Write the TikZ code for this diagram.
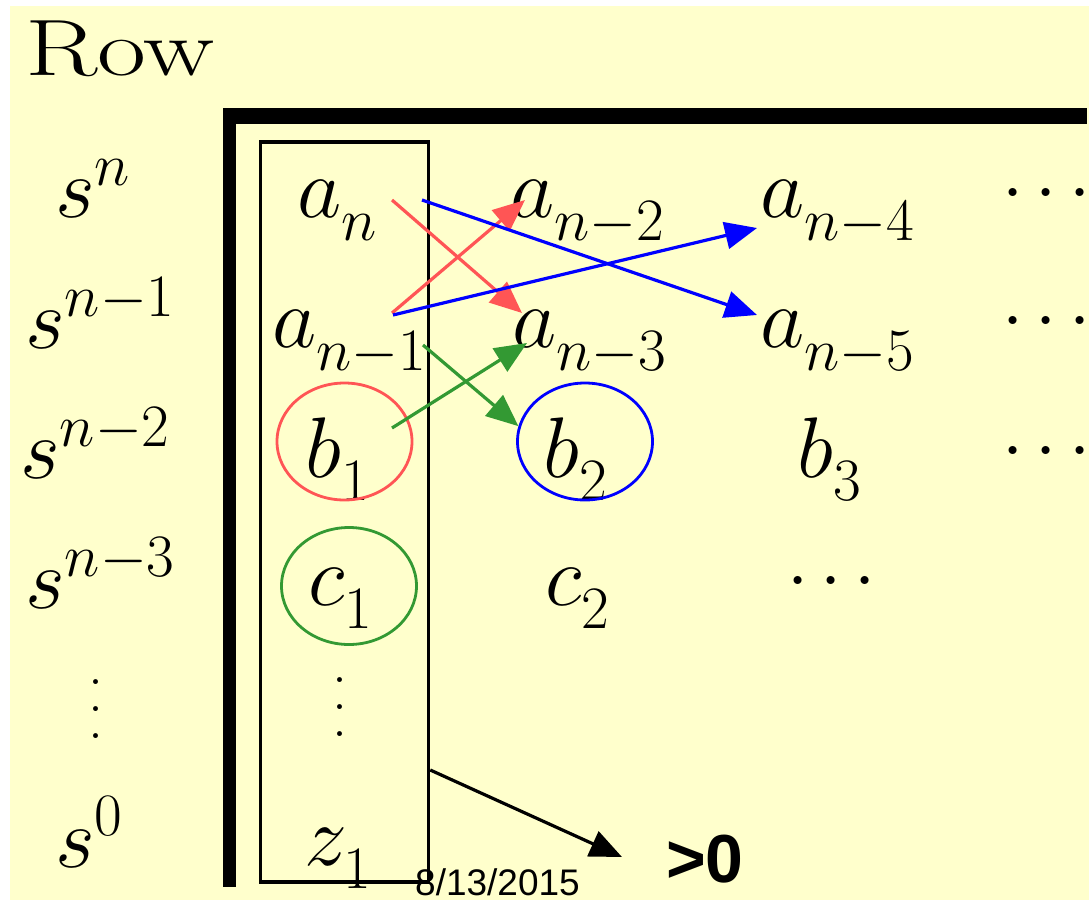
\RequirePackage{fix-cm}
\documentclass[tikz,border=0pt]{standalone}
\usepackage{fontspec}
\usepackage{tikz}
\usetikzlibrary{arrows.meta,shapes.geometric}
\newfontfamily\datefont{Liberation Sans}
\definecolor{slideyellow}{RGB}{255,255,204}
\definecolor{rhred}{RGB}{255,85,85}
\definecolor{rhblue}{RGB}{0,0,255}
\definecolor{rhgreen}{RGB}{51,153,51}
\newcommand{\colvdots}{\vbox{\baselineskip=27pt\lineskiplimit=0pt\hbox{.}\hbox{.}\hbox{.}}}
\newcommand{\dn}[1]{\raisebox{-11pt}{$\scriptstyle #1$}}
\tikzset{
  entry/.style={anchor=base west, inner sep=0pt, font=\fontsize{86}{100}\selectfont},
  dotsentry/.style={anchor=west, inner sep=0pt, font=\fontsize{76}{90}\selectfont},
  ring/.style={ellipse, draw=#1, line width=2.8pt, minimum width=135pt,
    minimum height=117pt, inner sep=0pt},
  link/.style={-{Triangle[length=32pt,width=27pt]}, line width=3.2pt, draw=#1}
}
\begin{document}
\begin{tikzpicture}[x=1pt, y=-1pt]
        \useasboundingbox (0,0) rectangle (1089,900);
        \fill[slideyellow] (10,6) rectangle (1089,900);
        \node[entry, font=\fontsize{80}{90}\selectfont] (rowlabel) at (25,75) {\scalebox{1.33}[1]{Row}};
        \fill (223,108) rectangle (1087,124);
        \fill (223,108) rectangle (236,887);
        \node[draw, line width=3.5pt, minimum width=168pt, minimum height=740pt, inner sep=0pt] (colbox) at (344.5,512) {};
        \node[entry] (sn) at (55,217) {$s^n$};
        \node[entry] (sn1) at (25,348) {$s^{n-1}$};
        \node[entry] (sn2) at (20,478) {$s^{n-2}$};
        \node[entry] (sn3) at (25,608) {$s^{n-3}$};
        \node[entry, anchor=center, font=\fontsize{60}{60}\selectfont] (svd) at (96,709) {\colvdots};
        \node[entry] (s0) at (55,867) {$s^0$};
        \node[entry] (an) at (297,217) {$a_{\dn{n}}$};
        \node[entry] (anm1) at (272,347) {$a_{\dn{n-1}}$};
        \node[entry] (b1) at (305,477) {$b_{\dn{1}}$};
        \node[entry] (c1) at (308,605) {$c_{\dn{1}}$};
        \node[entry, anchor=center, font=\fontsize{60}{60}\selectfont] (colvd) at (340,707) {\colvdots};
        \node[entry] (z1) at (304,865) {$z_{\dn{1}}$};
        \node[entry] (anm2) at (510,217) {$a_{\dn{n-2}}$};
        \node[entry] (anm3) at (512,347) {$a_{\dn{n-3}}$};
        \node[entry] (b2) at (543,477) {$b_{\dn{2}}$};
        \node[entry] (c2) at (545,605) {$c_{\dn{2}}$};
        \node[entry] (anm4) at (760,217) {$a_{\dn{n-4}}$};
        \node[entry] (anm5) at (760,347) {$a_{\dn{n-5}}$};
        \node[entry] (b3) at (797,477) {$b_{\dn{3}}$};
        \node[dotsentry] (cdots3) at (787,583) {$\cdots$};
        \node[dotsentry] (adots4) at (1002,195) {$\cdots$};
        \node[dotsentry] (adots5) at (1002,323) {$\cdots$};
        \node[dotsentry] (bdots4) at (1002,453) {$\cdots$};
        \node[ring=rhred] (ringb1) at (344.5,441.5) {};
        \node[ring=rhblue] (ringb2) at (585,441.5) {};
        \node[ring=rhgreen] (ringc1) at (349,586) {};
        \node[entry, font=\datefont\bfseries\fontsize{68}{80}\selectfont] (positive) at (666,882) {>0};
        \node[entry, font=\datefont\fontsize{37}{40}\selectfont] (date) at (415,895) {8/13/2015};
        \draw[link=rhred] ([shift={(95,-17)}]an.base west) -- ([shift={(10,-34)}]anm3.base west);
        \draw[link=rhred] ([shift={(120,-34)}]anm1.base west) -- ([shift={(15,-17)}]anm2.base west);
        \draw[link=rhblue] ([shift={(125,-17)}]an.base west) -- ([shift={(-3,-32)}]anm5.base west);
        \draw[link=rhblue] ([shift={(121,-32)}]anm1.base west) -- ([shift={(-3,11)}]anm4.base west);
        \draw[link=rhgreen] ([shift={(151,-2)}]anm1.base west) -- (ringb2.167);
        \draw[link=rhgreen] ([shift={(87,-49)}]b1.base west) -- ([shift={(15,-4)}]anm3.base west);
        \draw[link=black] ([shift={(0,258)}]colbox.east) -- ([shift={(-44,-25)}]positive.base west);
    \end{tikzpicture}
\end{document}
